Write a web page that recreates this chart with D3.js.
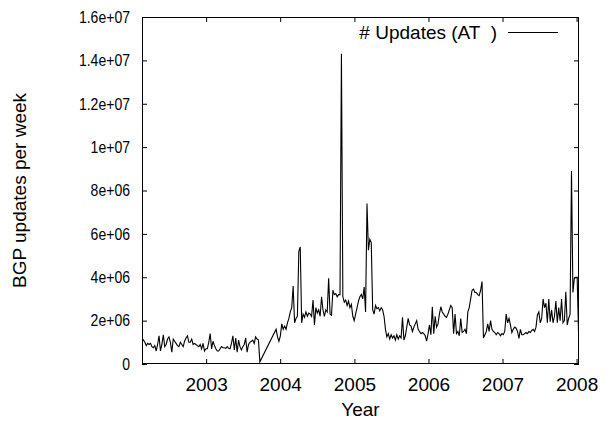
<!DOCTYPE html>
<html>
<head>
<meta charset="utf-8">
<script src="https://cdn.jsdelivr.net/npm/d3@7"></script>
<style>
  html, body { margin: 0; padding: 0; background: #fff; }
  svg { display: block; }
  text { font-family: "Liberation Sans", Arial, Helvetica, sans-serif; fill: #000; }
</style>
</head>
<body>
<script>
// ---- data (weekly BGP update counts, millions) ----
const segAStart = new Date(2002, 1, 19);
const segAValues = [1.2,1.1,1.0,0.85,0.95,0.9,0.95,0.8,0.75,0.85,
 0.6,0.9,1.3,0.6,0.9,1.35,0.8,0.9,1.15,1.25,
 1.0,0.55,1.15,1.05,0.95,0.85,0.8,1.0,0.9,0.8,
 1.05,1.2,1.3,1.0,1.0,1.15,0.9,0.95,0.9,0.85,
 0.8,0.9,0.7,0.95,0.6,0.7,0.7,1.0,1.4,0.7,
 1.05,0.85,0.7,0.6,0.6,0.7,0.8,0.75,0.75,0.72,
 0.8,0.72,0.7,0.95,1.3,0.65,1.2,0.55,1.1,0.8,
 0.65,0.8,0.9,1.2,0.55,0.9,1.0,1.05,1.1,0.95,
 1.25,1.15,1.1,0.1];
const segBStart = new Date(2003, 11, 12);
const segBValues = [1.6,1.25,1.05,1.3,1.85,1.6,1.75,1.6,1.9,2.1,
 2.4,2.6,3.6,1.9,2.1,2.2,5.2,5.4,1.9,2.3,
 2.15,2.4,2.2,2.35,2.3,2.2,2.95,1.8,2.6,2.35,
 2.5,2.2,3.1,2.5,2.2,2.5,2.4,3.95,2.3,2.25,
 3.4,3.2,3.25,3.1,3.2,3.2,14.3,3.1,2.85,2.95,
 2.7,2.9,2.6,2.75,2.2,2.0,2.3,2.6,2.9,3.1,
 3.2,3.0,3.55,2.4,7.4,5.25,5.75,5.6,2.5,2.3,
 2.7,2.55,2.6,2.45,2.6,2.5,2.2,1.6,1.25,1.4,
 1.15,1.35,1.2,1.3,1.1,1.35,1.15,1.3,1.2,2.15,
 1.1,1.3,1.7,2.1,1.8,1.75,1.5,1.7,1.85,2.0,
 1.6,1.5,1.4,1.45,1.4,1.3,1.05,1.4,1.8,1.35,
 2.64,1.4,2.2,1.7,1.85,2.3,2.64,2.4,2.3,2.2,
 2.15,2.3,2.5,2.7,2.6,1.4,2.3,1.4,1.5,1.3,
 2.1,1.45,1.5,1.6,1.4,2.4,2.6,3.0,3.4,3.45,
 3.3,3.3,3.2,3.15,3.4,3.8,1.2,1.35,1.5,1.85,
 1.5,2.0,1.6,1.5,1.45,1.35,1.45,1.4,1.3,1.4,
 1.35,1.5,2.3,1.9,2.1,1.8,1.45,1.6,1.7,1.65,
 1.5,1.18,1.6,1.35,1.35,1.4,1.45,1.4,1.5,1.45,
 1.55,1.6,1.5,1.7,2.26,2.4,1.9,2.1,3.0,2.6,
 2.8,1.9,3.0,1.95,2.5,1.9,2.2,2.9,1.9,2.6,
 2.0,3.0,1.9,2.0,3.33,1.8,2.1,2.3,8.9,3.3,
 3.95,4.0,4.0,1.3,2.0];
const xTickYears = [2003, 2004, 2005, 2006, 2007, 2008];
const yTickValues = [0, 2e6, 4e6, 6e6, 8e6, 1e7, 1.2e7, 1.4e7, 1.6e7];
const yTickLabels = ["0","2e+06","4e+06","6e+06","8e+06","1e+07","1.2e+07","1.4e+07","1.6e+07"];
const seriesName = "# Updates (AT  )";
const xTitle = "Year";
const yTitle = "BGP updates per week";

// ---- build points ----
const points = [];
segAValues.forEach((v, i) => points.push({ date: d3.timeDay.offset(segAStart, 7 * i), value: v * 1e6 }));
segBValues.forEach((v, i) => points.push({ date: d3.timeDay.offset(segBStart, 7 * i), value: v * 1e6 }));

// ---- layout ----
const W = 606, H = 422;
const L = 142, R = 579, T = 17, B = 364;

const svg = d3.select("body").append("svg").attr("width", W).attr("height", H);
svg.append("rect").attr("width", W).attr("height", H).attr("fill", "#fff");

const x = d3.scaleTime().domain([new Date(2002, 1, 19), new Date(2008, 0, 13)]).range([L, R]);
const y = d3.scaleLinear().domain([0, 1.6e7]).range([B, T]);
const xTicks = xTickYears.map(yr => new Date(yr, 0, 1));

const fs = 19;

// axes
const gB = svg.append("g").attr("transform", `translate(0,${B})`)
  .call(d3.axisBottom(x).tickValues(xTicks).tickFormat(d => d.getFullYear()).tickSize(-5).tickPadding(13.5));
const gT = svg.append("g").attr("transform", `translate(0,${T})`)
  .call(d3.axisTop(x).tickValues(xTicks).tickFormat("").tickSize(-5));
const gL = svg.append("g").attr("transform", `translate(${L},0)`)
  .call(d3.axisLeft(y).tickValues(yTickValues).tickFormat((d, i) => yTickLabels[i]).tickSize(-5).tickPadding(12));
const gR = svg.append("g").attr("transform", `translate(${R},0)`)
  .call(d3.axisRight(y).tickValues(yTickValues).tickFormat("").tickSize(-5));
[gB, gT, gL, gR].forEach(g => {
  g.select(".domain").remove();
  g.selectAll("line").attr("stroke", "#000").attr("stroke-width", 1);
  g.selectAll("text").attr("font-size", fs).attr("font-family", null).attr("fill", "#000");
});
// y tick labels in the reference are a bit smaller and narrower
gL.selectAll(".tick text").attr("font-size", 16.5).each(function () {
  const w = this.getComputedTextLength();
  d3.select(this).attr("textLength", w * 0.85).attr("lengthAdjust", "spacingAndGlyphs");
});

// clip + line
svg.append("clipPath").attr("id", "clip").append("rect")
  .attr("x", L).attr("y", T).attr("width", R - L).attr("height", B - T);
const line = d3.line().x(d => x(d.date)).y(d => y(d.value));
svg.append("path").datum(points)
  .attr("clip-path", "url(#clip)")
  .attr("fill", "none").attr("stroke", "#000").attr("stroke-width", 1.1)
  .attr("stroke-linejoin", "miter").attr("d", line);

// frame
svg.append("rect").attr("x", L + 0.5).attr("y", T + 0.5).attr("width", R - L - 1).attr("height", B - T - 1)
  .attr("fill", "none").attr("stroke", "#000").attr("stroke-width", 1);

// legend
svg.append("text").attr("x", 497).attr("y", 39).attr("text-anchor", "end")
  .attr("font-size", fs).style("white-space", "pre").attr("xml:space", "preserve").text(seriesName);
svg.append("line").attr("x1", 508).attr("x2", 558).attr("y1", 32.5).attr("y2", 32.5)
  .attr("stroke", "#000").attr("stroke-width", 1);

// titles
svg.append("text").attr("x", (L + R) / 2).attr("y", 416).attr("text-anchor", "middle")
  .attr("font-size", fs).text(xTitle);
svg.append("text").attr("transform", `translate(26,${(T + B) / 2}) rotate(-90)`)
  .attr("text-anchor", "middle").attr("font-size", fs).text(yTitle);
</script>
</body>
</html>
